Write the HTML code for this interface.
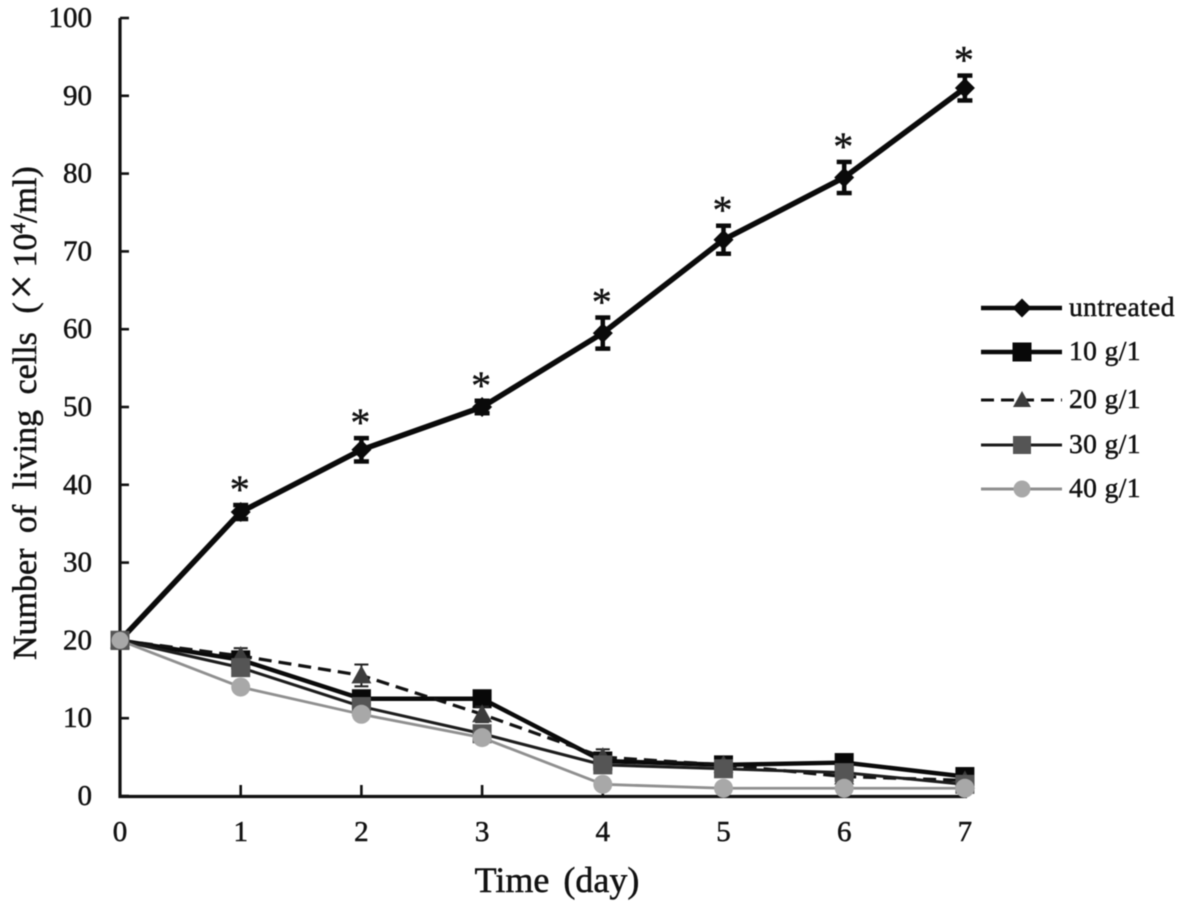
<!DOCTYPE html>
<html>
<head>
<meta charset="utf-8">
<style>
html,body{margin:0;padding:0;background:#fff;}
svg{display:block;}
text{font-family:"Liberation Serif","Noto Serif CJK SC",serif;fill:#111;stroke:#111;stroke-width:.5px;}
</style>
</head>
<body>
<svg id="chart" width="1181" height="906" viewBox="0 0 1181 906" xmlns="http://www.w3.org/2000/svg">
<g id="root" style="filter:blur(.55px)"></g>
</svg>
<script>
const days = [0,1,2,3,4,5,6,7];
const yTickLabels = [0,10,20,30,40,50,60,70,80,90,100];
const untreated = [20,36.5,44.5,50,59.5,71.5,79.5,91];
const untreatedErr = [0,0.9,1.5,0.8,2,1.8,2,1.6];
const g10 = [20,17.5,12.5,12.5,4.5,4,4.3,2.5];
const g20 = [20,18,15.5,10.5,5,4,2.5,2];
const g20Err = [0,1,1.4,1,1,0.5,0.5,0.5];
const g30 = [20,16.5,11.5,8,4,3.5,3,1.5];
const g40 = [20,14,10.5,7.5,1.5,1,1,1];
const seriesNames = ['untreated','10 g/1','20 g/1','30 g/1','40 g/1'];

const NS='http://www.w3.org/2000/svg';
const root=document.getElementById('root');
function xs(v){return 120+v*120.7;}
function ys(v){return 796-v*7.78;}
function mk(tag,attrs,name,parent,text){
  const el=document.createElementNS(NS,tag);
  for(const k in attrs){el.setAttribute(k,attrs[k]);}
  
  
  if(text!==undefined){el.textContent=text;}
  (parent||root).appendChild(el);
  return el;
}
function marker(shape,x,y,fill,name,parent,s){
  if(shape==='diamond'){
    return mk('polygon',{points:`${x},${y-s} ${x+s},${y} ${x},${y+s} ${x-s},${y}`,fill:fill},name,parent);
  }
  if(shape==='square'){
    return mk('rect',{x:x-s,y:y-s,width:2*s,height:2*s,fill:fill},name,parent);
  }
  if(shape==='triangle'){
    return mk('polygon',{points:`${x},${y-s-1} ${x+s+1},${y+s-1} ${x-s-1},${y+s-1}`,fill:fill},name,parent);
  }
  return mk('circle',{cx:x,cy:y,r:s,fill:fill},name,parent);
}

/* axes */
mk('line',{x1:120,y1:18,x2:120,y2:798,stroke:'#111','stroke-width':3.2},'y-axis-line');
mk('line',{x1:118.5,y1:796.5,x2:967,y2:796.5,stroke:'#111','stroke-width':3.2},'x-axis-line');
yTickLabels.forEach(function(t){
  mk('line',{x1:120,y1:ys(t),x2:129,y2:ys(t),stroke:'#111','stroke-width':2.6},'y-tick-'+t);
  mk('text',{x:92,y:ys(t)+9,'text-anchor':'end','font-size':29},'y-tick-label-'+t,null,t);
});
days.forEach(function(t){
  if(t>0){mk('line',{x1:xs(t),y1:796,x2:xs(t),y2:785,stroke:'#111','stroke-width':2.6},'x-tick-'+t);}
  mk('text',{x:xs(t),y:841,'text-anchor':'middle','font-size':29},'x-tick-label-'+t,null,t);
});

/* axis titles */
mk('text',{x:557,y:892,'text-anchor':'middle','font-size':36,'word-spacing':5},'x-axis-title',null,'Time (day)');
const yTitle=mk('text',{transform:'translate(36,660) rotate(-90)','font-size':34,'word-spacing':7},'y-axis-title',null);
yTitle.innerHTML='Number of living cells <tspan dx="3">(</tspan><tspan dx="3" font-size="44">×</tspan><tspan dx="7">10</tspan><tspan dy="-11" font-size="21">4</tspan><tspan dy="11">/ml)</tspan>';

/* series */
const config=[
  {vals:g40,color:'#8f8f8f',w:2.8,dash:null,shape:'circle',fill:'#a8a8a8',s:9.5,name:'40-g-per-l'},
  {vals:g20,color:'#111',w:3.2,dash:'13 7',shape:'triangle',fill:'#3c3c3c',s:9,name:'20-g-per-l'},
  {vals:g10,color:'#0a0a0a',w:4.4,dash:null,shape:'square',fill:'#080808',s:9.5,name:'10-g-per-l'},
  {vals:g30,color:'#1c1c1c',w:3,dash:null,shape:'square',fill:'#555',s:9.5,name:'30-g-per-l'},
];
function linePath(vals){return vals.map(function(v,i){return (i?'L':'M')+xs(days[i])+' '+ys(v);}).join(' ');}
function errBars(vals,errs,name,parent,cap,w,capW,color){
  vals.forEach(function(v,i){
    if(!errs[i]){return;}
    const x=xs(days[i]);
    mk('line',{x1:x,y1:ys(v+errs[i]),x2:x,y2:ys(v-errs[i]),stroke:color,'stroke-width':w},name+'-error-'+i,parent);
    mk('line',{x1:x-cap,y1:ys(v+errs[i]),x2:x+cap,y2:ys(v+errs[i]),stroke:color,'stroke-width':capW},name+'-error-cap-top-'+i,parent);
    mk('line',{x1:x-cap,y1:ys(v-errs[i]),x2:x+cap,y2:ys(v-errs[i]),stroke:color,'stroke-width':capW},name+'-error-cap-bottom-'+i,parent);
  });
}
const lowOrder=[config[2],config[1],config[3],config[0]];
lowOrder.forEach(function(c){
  const g=mk('g',{},'series-'+c.name);
  const p={d:linePath(c.vals),fill:'none',stroke:c.color,'stroke-width':c.w,'stroke-linejoin':'round'};
  if(c.dash){p['stroke-dasharray']=c.dash;}
  mk('path',p,c.name+'-line',g);
  if(c.vals===g20){errBars(g20,g20Err,c.name,g,7,2,2,'#222');}
  c.vals.forEach(function(v,i){
    marker(c.shape,xs(days[i]),ys(v),c.fill,c.name+'-point-'+i,g,c.s);
  });
});

/* untreated */
const ug=mk('g',{},'series-untreated');
mk('path',{d:linePath(untreated),fill:'none',stroke:'#0a0a0a','stroke-width':5.5,'stroke-linejoin':'round'},'untreated-line',ug);
errBars(untreated,untreatedErr,'untreated',ug,7.5,4.5,4.5,'#0a0a0a');
untreated.forEach(function(v,i){
  if(i===0){return;}
  marker('diamond',xs(days[i]),ys(v),'#0a0a0a','untreated-point-'+i,ug,10);
  mk('text',{x:xs(days[i])-1,y:ys(v+untreatedErr[i])-2,'text-anchor':'middle','font-size':40,style:'stroke-width:.4px'},'significance-star-'+i,ug,'*');
});
/* first point redraw: 30 g/l square and 40 g/l circle sit on top at day 0 */
marker('square',xs(0),ys(20),'#555','start-square',root,9.5);
marker('circle',xs(0),ys(20),'#a8a8a8','start-circle',root,8.5);

/* legend */
const legendY=[308,352,400,445,489];
const legendStyle=[
  {c:'#0a0a0a',w:4.5,d:null,sh:'diamond',f:'#0a0a0a',s:9.5},
  {c:'#0a0a0a',w:4.5,d:null,sh:'square',f:'#080808',s:9.5},
  {c:'#111',w:3,d:'13 7',sh:'triangle',f:'#3c3c3c',s:8},
  {c:'#1c1c1c',w:3,d:null,sh:'square',f:'#555',s:9},
  {c:'#8f8f8f',w:3,d:null,sh:'circle',f:'#a8a8a8',s:8.5},
];
const lg=mk('g',{},'legend');
seriesNames.forEach(function(n,i){
  const e=mk('g',{},'legend-entry-'+i,lg);
  const st=legendStyle[i];
  const a={x1:981,y1:legendY[i],x2:1062,y2:legendY[i],stroke:st.c,'stroke-width':st.w};
  if(st.d){a['stroke-dasharray']=st.d;}
  mk('line',a,'legend-line-'+i,e);
  marker(st.sh,1022,legendY[i],st.f,'legend-marker-'+i,e,st.s);
  mk('text',{x:1069,y:legendY[i]+8,'font-size':27.5,'letter-spacing':.4},'legend-label-'+i,e,n);
});
</script>
</body>
</html>
